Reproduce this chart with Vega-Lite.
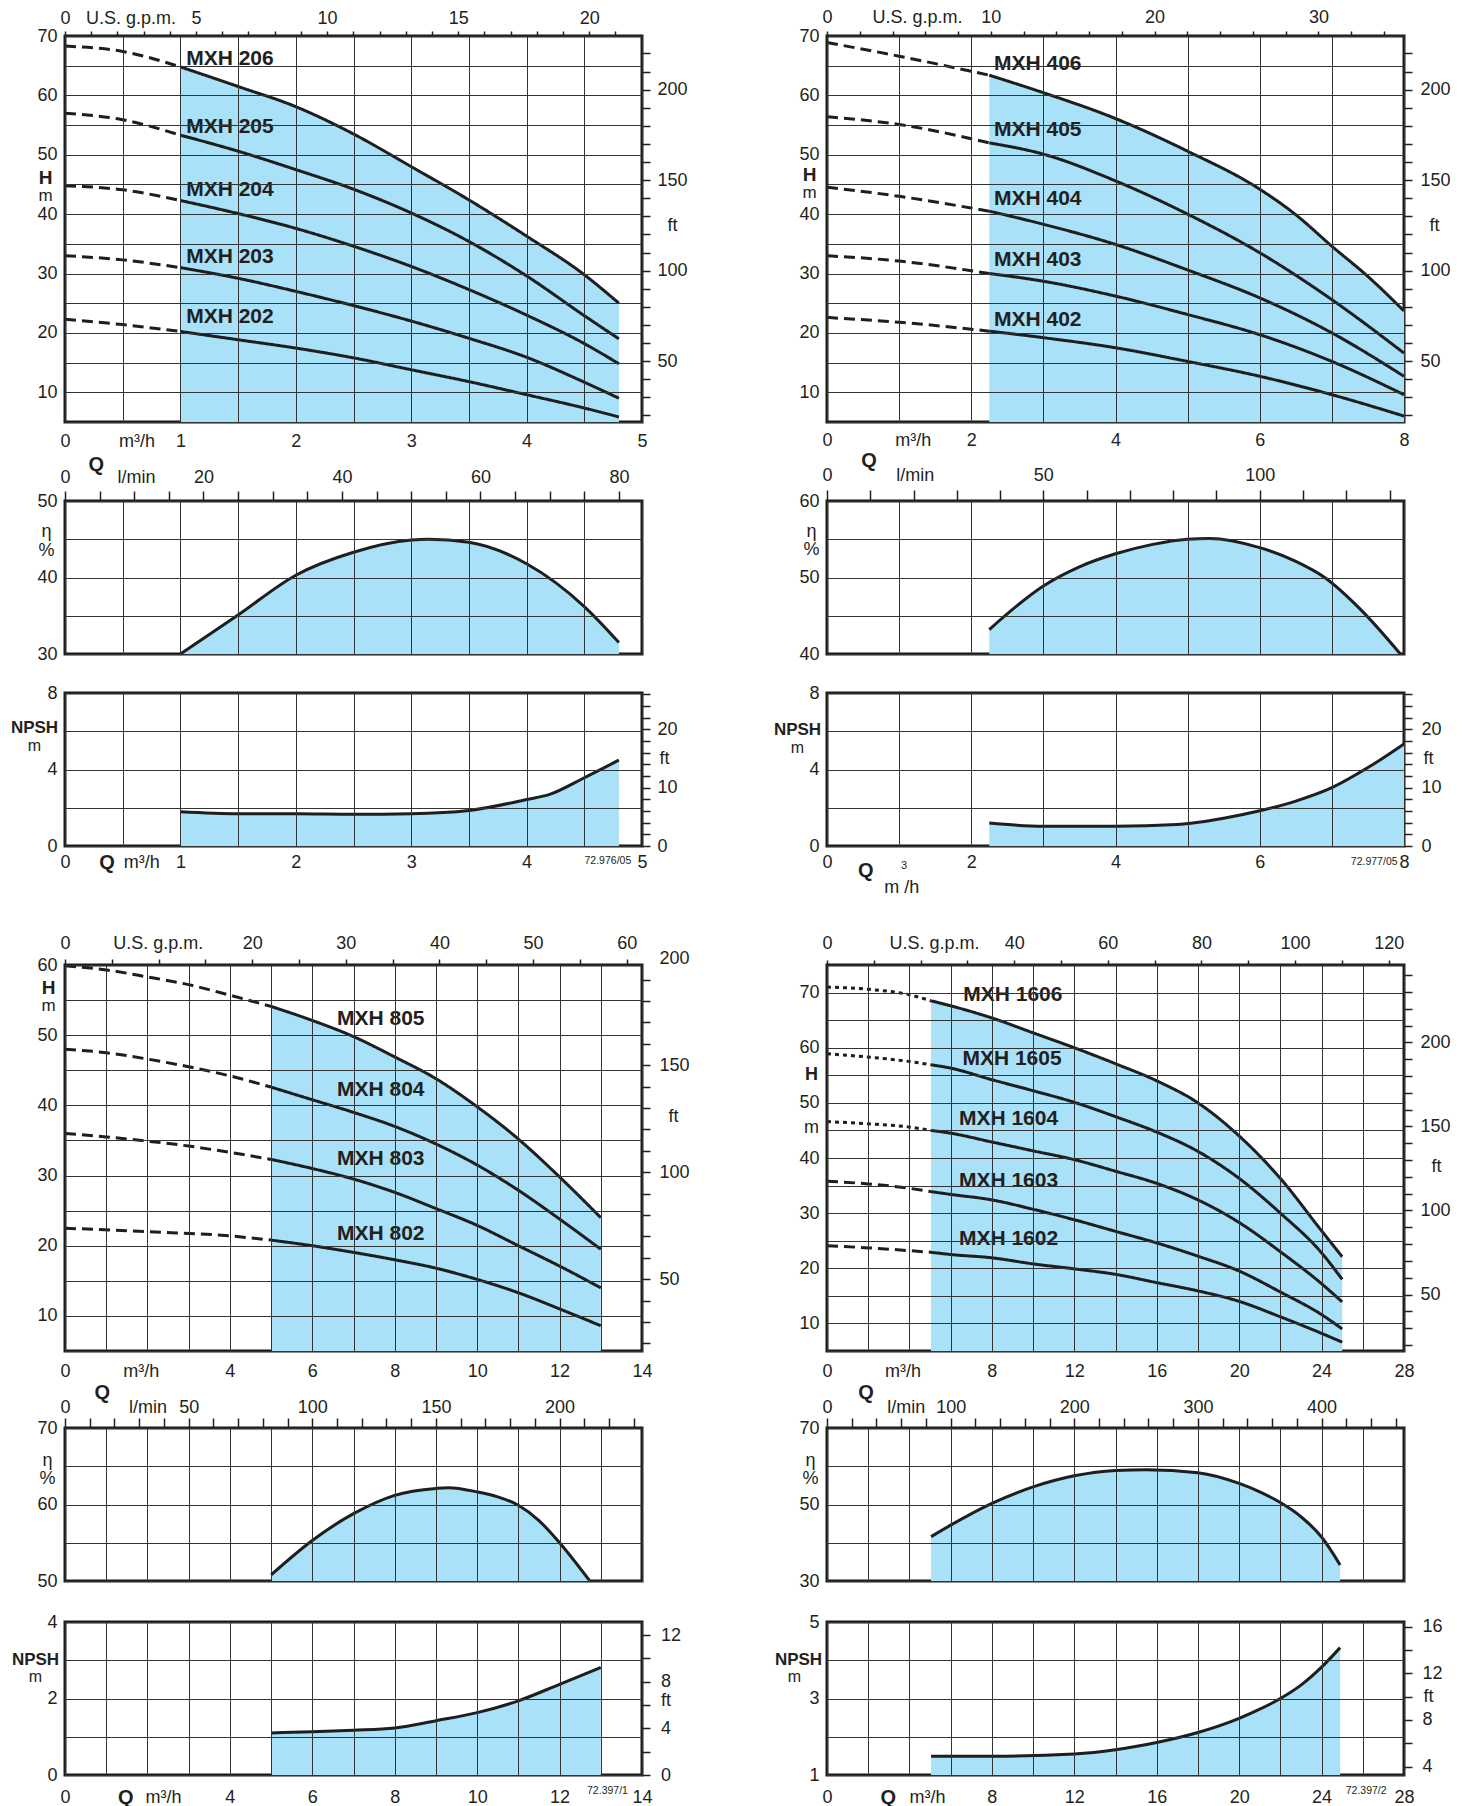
{
"$schema":"https://vega.github.io/schema/vega-lite/v6.json",
"background":"white",
"padding":{"left":8,"top":6,"right":10,"bottom":4},
"columns":2,
"spacing":{"row":0,"column":185},
"bounds":"flush",
"datasets":{
"h20":[
{"m":"MXH 206","s":"dashed","q":0,"h":68.3},{"m":"MXH 206","s":"dashed","q":0.5,"h":67.4},{"m":"MXH 206","s":"dashed","q":1,"h":64.8},
{"m":"MXH 206","s":"solid","q":1,"h":64.8},{"m":"MXH 206","s":"solid","q":1.5,"h":61.5},{"m":"MXH 206","s":"solid","q":2,"h":58.1},{"m":"MXH 206","s":"solid","q":2.5,"h":53.5},{"m":"MXH 206","s":"solid","q":3,"h":48.0},{"m":"MXH 206","s":"solid","q":3.5,"h":42.4},{"m":"MXH 206","s":"solid","q":4,"h":36.3},{"m":"MXH 206","s":"solid","q":4.5,"h":29.8},{"m":"MXH 206","s":"solid","q":4.8,"h":25.0},
{"m":"MXH 205","s":"dashed","q":0,"h":57.0},{"m":"MXH 205","s":"dashed","q":0.5,"h":55.9},{"m":"MXH 205","s":"dashed","q":1,"h":53.3},
{"m":"MXH 205","s":"solid","q":1,"h":53.3},{"m":"MXH 205","s":"solid","q":1.5,"h":50.6},{"m":"MXH 205","s":"solid","q":2,"h":47.5},{"m":"MXH 205","s":"solid","q":2.5,"h":44.2},{"m":"MXH 205","s":"solid","q":3,"h":40.2},{"m":"MXH 205","s":"solid","q":3.5,"h":35.4},{"m":"MXH 205","s":"solid","q":4,"h":29.6},{"m":"MXH 205","s":"solid","q":4.5,"h":22.9},{"m":"MXH 205","s":"solid","q":4.8,"h":19.0},
{"m":"MXH 204","s":"dashed","q":0,"h":44.8},{"m":"MXH 204","s":"dashed","q":0.5,"h":44.1},{"m":"MXH 204","s":"dashed","q":1,"h":42.3},
{"m":"MXH 204","s":"solid","q":1,"h":42.3},{"m":"MXH 204","s":"solid","q":1.5,"h":40.1},{"m":"MXH 204","s":"solid","q":2,"h":37.6},{"m":"MXH 204","s":"solid","q":2.5,"h":34.6},{"m":"MXH 204","s":"solid","q":3,"h":31.2},{"m":"MXH 204","s":"solid","q":3.5,"h":27.3},{"m":"MXH 204","s":"solid","q":4,"h":23.0},{"m":"MXH 204","s":"solid","q":4.5,"h":18.2},{"m":"MXH 204","s":"solid","q":4.8,"h":14.8},
{"m":"MXH 203","s":"dashed","q":0,"h":33.0},{"m":"MXH 203","s":"dashed","q":0.5,"h":32.3},{"m":"MXH 203","s":"dashed","q":1,"h":31.0},
{"m":"MXH 203","s":"solid","q":1,"h":31.0},{"m":"MXH 203","s":"solid","q":1.5,"h":29.2},{"m":"MXH 203","s":"solid","q":2,"h":27.0},{"m":"MXH 203","s":"solid","q":2.5,"h":24.6},{"m":"MXH 203","s":"solid","q":3,"h":22.0},{"m":"MXH 203","s":"solid","q":3.5,"h":19.1},{"m":"MXH 203","s":"solid","q":4,"h":15.9},{"m":"MXH 203","s":"solid","q":4.5,"h":11.7},{"m":"MXH 203","s":"solid","q":4.8,"h":9.0},
{"m":"MXH 202","s":"dashed","q":0,"h":22.3},{"m":"MXH 202","s":"dashed","q":0.5,"h":21.4},{"m":"MXH 202","s":"dashed","q":1,"h":20.25},
{"m":"MXH 202","s":"solid","q":1,"h":20.25},{"m":"MXH 202","s":"solid","q":1.5,"h":18.85},{"m":"MXH 202","s":"solid","q":2,"h":17.45},{"m":"MXH 202","s":"solid","q":2.5,"h":15.8},{"m":"MXH 202","s":"solid","q":3,"h":13.8},{"m":"MXH 202","s":"solid","q":3.5,"h":11.8},{"m":"MXH 202","s":"solid","q":4,"h":9.6},{"m":"MXH 202","s":"solid","q":4.5,"h":7.35},{"m":"MXH 202","s":"solid","q":4.8,"h":5.85}
],
"l20":[{"m":"MXH 206","q":1.05,"h":66.2},{"m":"MXH 205","q":1.05,"h":54.7},{"m":"MXH 204","q":1.05,"h":44.0},{"m":"MXH 203","q":1.05,"h":32.8},{"m":"MXH 202","q":1.05,"h":22.7}],
"e20":[{"q":1,"v":30},{"q":1.5,"v":35.1},{"q":2,"v":40.3},{"q":2.5,"v":43.3},{"q":3,"v":44.9},{"q":3.15,"v":45.0},{"q":3.5,"v":44.6},{"q":4,"v":41.8},{"q":4.5,"v":36.2},{"q":4.8,"v":31.5}],
"n20":[{"q":1,"v":1.79},{"q":1.5,"v":1.69},{"q":2,"v":1.69},{"q":2.5,"v":1.66},{"q":3,"v":1.69},{"q":3.5,"v":1.86},{"q":4,"v":2.43},{"q":4.2,"v":2.7},{"q":4.5,"v":3.57},{"q":4.8,"v":4.49}],
"h40":[
{"m":"MXH 406","s":"dashed","q":0,"h":68.9},{"m":"MXH 406","s":"dashed","q":1,"h":66.6},{"m":"MXH 406","s":"dashed","q":2.25,"h":63.4},
{"m":"MXH 406","s":"solid","q":2.25,"h":63.4},{"m":"MXH 406","s":"solid","q":3,"h":60.45},{"m":"MXH 406","s":"solid","q":4,"h":56.1},{"m":"MXH 406","s":"solid","q":5,"h":50.6},{"m":"MXH 406","s":"solid","q":6,"h":44.2},{"m":"MXH 406","s":"solid","q":6.5,"h":39.9},{"m":"MXH 406","s":"solid","q":7,"h":34.6},{"m":"MXH 406","s":"solid","q":7.5,"h":29.5},{"m":"MXH 406","s":"solid","q":8,"h":23.7},
{"m":"MXH 405","s":"dashed","q":0,"h":56.4},{"m":"MXH 405","s":"dashed","q":1,"h":55.1},{"m":"MXH 405","s":"dashed","q":2.25,"h":52.0},
{"m":"MXH 405","s":"solid","q":2.25,"h":52.0},{"m":"MXH 405","s":"solid","q":3,"h":50.1},{"m":"MXH 405","s":"solid","q":4,"h":45.6},{"m":"MXH 405","s":"solid","q":5,"h":40.0},{"m":"MXH 405","s":"solid","q":6,"h":33.5},{"m":"MXH 405","s":"solid","q":7,"h":25.6},{"m":"MXH 405","s":"solid","q":8,"h":16.6},
{"m":"MXH 404","s":"dashed","q":0,"h":44.55},{"m":"MXH 404","s":"dashed","q":1,"h":43.0},{"m":"MXH 404","s":"dashed","q":2.25,"h":40.5},
{"m":"MXH 404","s":"solid","q":2.25,"h":40.5},{"m":"MXH 404","s":"solid","q":3,"h":38.3},{"m":"MXH 404","s":"solid","q":4,"h":34.9},{"m":"MXH 404","s":"solid","q":5,"h":30.6},{"m":"MXH 404","s":"solid","q":6,"h":25.9},{"m":"MXH 404","s":"solid","q":7,"h":20.0},{"m":"MXH 404","s":"solid","q":8,"h":12.7},
{"m":"MXH 403","s":"dashed","q":0,"h":33.0},{"m":"MXH 403","s":"dashed","q":1,"h":32.1},{"m":"MXH 403","s":"dashed","q":2.25,"h":30.0},
{"m":"MXH 403","s":"solid","q":2.25,"h":30.0},{"m":"MXH 403","s":"solid","q":3,"h":28.7},{"m":"MXH 403","s":"solid","q":4,"h":26.2},{"m":"MXH 403","s":"solid","q":5,"h":23.1},{"m":"MXH 403","s":"solid","q":6,"h":19.7},{"m":"MXH 403","s":"solid","q":7,"h":15.2},{"m":"MXH 403","s":"solid","q":8,"h":9.6},
{"m":"MXH 402","s":"dashed","q":0,"h":22.6},{"m":"MXH 402","s":"dashed","q":1,"h":21.8},{"m":"MXH 402","s":"dashed","q":2.25,"h":20.3},
{"m":"MXH 402","s":"solid","q":2.25,"h":20.3},{"m":"MXH 402","s":"solid","q":3,"h":19.2},{"m":"MXH 402","s":"solid","q":4,"h":17.5},{"m":"MXH 402","s":"solid","q":5,"h":15.2},{"m":"MXH 402","s":"solid","q":6,"h":12.7},{"m":"MXH 402","s":"solid","q":7,"h":9.6},{"m":"MXH 402","s":"solid","q":8,"h":6.0}
],
"l40":[{"m":"MXH 406","q":2.315,"h":65.3},{"m":"MXH 405","q":2.315,"h":54.2},{"m":"MXH 404","q":2.315,"h":42.6},{"m":"MXH 403","q":2.315,"h":32.2},{"m":"MXH 402","q":2.315,"h":22.1}],
"e40":[{"q":2.25,"v":43.2},{"q":3,"v":48.9},{"q":3.5,"v":51.4},{"q":4,"v":53.1},{"q":4.5,"v":54.3},{"q":5,"v":55.0},{"q":5.3,"v":55.1},{"q":6,"v":53.9},{"q":6.5,"v":52.1},{"q":6.9,"v":50.0},{"q":7.4,"v":45.8},{"q":7.95,"v":40.0}],
"n40":[{"q":2.25,"v":1.2},{"q":3,"v":1.03},{"q":4,"v":1.03},{"q":4.85,"v":1.12},{"q":5.5,"v":1.45},{"q":6,"v":1.84},{"q":6.5,"v":2.35},{"q":7,"v":3.05},{"q":7.5,"v":4.1},{"q":8,"v":5.34}],
"h80":[
{"m":"MXH 805","s":"dashed","q":0,"h":59.9},{"m":"MXH 805","s":"dashed","q":1,"h":59.3},{"m":"MXH 805","s":"dashed","q":2,"h":58.3},{"m":"MXH 805","s":"dashed","q":3,"h":57.2},{"m":"MXH 805","s":"dashed","q":4,"h":55.7},{"m":"MXH 805","s":"dashed","q":5,"h":54.1},
{"m":"MXH 805","s":"solid","q":5,"h":54.1},{"m":"MXH 805","s":"solid","q":6,"h":52.1},{"m":"MXH 805","s":"solid","q":7,"h":49.8},{"m":"MXH 805","s":"solid","q":8,"h":46.9},{"m":"MXH 805","s":"solid","q":9,"h":43.8},{"m":"MXH 805","s":"solid","q":10,"h":39.8},{"m":"MXH 805","s":"solid","q":11,"h":35.2},{"m":"MXH 805","s":"solid","q":12,"h":29.8},{"m":"MXH 805","s":"solid","q":13,"h":24.0},
{"m":"MXH 804","s":"dashed","q":0,"h":48.0},{"m":"MXH 804","s":"dashed","q":1,"h":47.5},{"m":"MXH 804","s":"dashed","q":2,"h":46.6},{"m":"MXH 804","s":"dashed","q":3,"h":45.5},{"m":"MXH 804","s":"dashed","q":4,"h":44.2},{"m":"MXH 804","s":"dashed","q":5,"h":42.6},
{"m":"MXH 804","s":"solid","q":5,"h":42.6},{"m":"MXH 804","s":"solid","q":6,"h":40.8},{"m":"MXH 804","s":"solid","q":7,"h":39.0},{"m":"MXH 804","s":"solid","q":8,"h":37.0},{"m":"MXH 804","s":"solid","q":9,"h":34.5},{"m":"MXH 804","s":"solid","q":10,"h":31.5},{"m":"MXH 804","s":"solid","q":11,"h":27.9},{"m":"MXH 804","s":"solid","q":12,"h":23.8},{"m":"MXH 804","s":"solid","q":13,"h":19.5},
{"m":"MXH 803","s":"dashed","q":0,"h":36.0},{"m":"MXH 803","s":"dashed","q":1,"h":35.5},{"m":"MXH 803","s":"dashed","q":2,"h":34.9},{"m":"MXH 803","s":"dashed","q":3,"h":34.2},{"m":"MXH 803","s":"dashed","q":4,"h":33.3},{"m":"MXH 803","s":"dashed","q":5,"h":32.3},
{"m":"MXH 803","s":"solid","q":5,"h":32.3},{"m":"MXH 803","s":"solid","q":6,"h":31.0},{"m":"MXH 803","s":"solid","q":7,"h":29.5},{"m":"MXH 803","s":"solid","q":8,"h":27.6},{"m":"MXH 803","s":"solid","q":9,"h":25.3},{"m":"MXH 803","s":"solid","q":10,"h":22.9},{"m":"MXH 803","s":"solid","q":11,"h":20.0},{"m":"MXH 803","s":"solid","q":12,"h":17.1},{"m":"MXH 803","s":"solid","q":13,"h":14.0},
{"m":"MXH 802","s":"dashed","q":0,"h":22.5},{"m":"MXH 802","s":"dashed","q":2,"h":22.0},{"m":"MXH 802","s":"dashed","q":4,"h":21.4},{"m":"MXH 802","s":"dashed","q":5,"h":20.8},
{"m":"MXH 802","s":"solid","q":5,"h":20.8},{"m":"MXH 802","s":"solid","q":6,"h":20.0},{"m":"MXH 802","s":"solid","q":7,"h":19.05},{"m":"MXH 802","s":"solid","q":8,"h":18.0},{"m":"MXH 802","s":"solid","q":9,"h":16.8},{"m":"MXH 802","s":"solid","q":10,"h":15.2},{"m":"MXH 802","s":"solid","q":11,"h":13.3},{"m":"MXH 802","s":"solid","q":12,"h":11.0},{"m":"MXH 802","s":"solid","q":13,"h":8.6}
],
"l80":[{"m":"MXH 805","q":6.6,"h":52.3},{"m":"MXH 804","q":6.6,"h":42.2},{"m":"MXH 803","q":6.6,"h":32.3},{"m":"MXH 802","q":6.6,"h":21.7}],
"e80":[{"q":5,"v":50.8},{"q":6,"v":55.3},{"q":7,"v":58.8},{"q":8,"v":61.2},{"q":9,"v":62.1},{"q":9.3,"v":62.2},{"q":10,"v":61.65},{"q":10.5,"v":61.0},{"q":11,"v":59.9},{"q":11.5,"v":57.9},{"q":12,"v":55.0},{"q":12.72,"v":50.1}],
"n80":[{"q":5,"v":1.1},{"q":6,"v":1.13},{"q":7,"v":1.17},{"q":8,"v":1.23},{"q":9,"v":1.42},{"q":10,"v":1.63},{"q":11,"v":1.94},{"q":12,"v":2.37},{"q":13,"v":2.81}],
"h160":[
{"m":"MXH 1606","s":"dotted","q":0,"h":71.0},{"m":"MXH 1606","s":"dotted","q":2,"h":70.6},{"m":"MXH 1606","s":"dotted","q":4,"h":69.6},{"m":"MXH 1606","s":"dotted","q":5.05,"h":68.5},
{"m":"MXH 1606","s":"solid","q":5.05,"h":68.5},{"m":"MXH 1606","s":"solid","q":6,"h":67.6},{"m":"MXH 1606","s":"solid","q":8,"h":65.4},{"m":"MXH 1606","s":"solid","q":10,"h":62.7},{"m":"MXH 1606","s":"solid","q":12,"h":60.0},{"m":"MXH 1606","s":"solid","q":14,"h":57.1},{"m":"MXH 1606","s":"solid","q":16,"h":54.0},{"m":"MXH 1606","s":"solid","q":18,"h":50.0},{"m":"MXH 1606","s":"solid","q":20,"h":44.0},{"m":"MXH 1606","s":"solid","q":22,"h":36.3},{"m":"MXH 1606","s":"solid","q":24,"h":26.8},{"m":"MXH 1606","s":"solid","q":25,"h":22.1},
{"m":"MXH 1605","s":"dotted","q":0,"h":58.9},{"m":"MXH 1605","s":"dotted","q":2,"h":58.3},{"m":"MXH 1605","s":"dotted","q":4,"h":57.5},{"m":"MXH 1605","s":"dotted","q":5.05,"h":56.9},
{"m":"MXH 1605","s":"solid","q":5.05,"h":56.9},{"m":"MXH 1605","s":"solid","q":6,"h":56.3},{"m":"MXH 1605","s":"solid","q":8,"h":54.2},{"m":"MXH 1605","s":"solid","q":10,"h":52.2},{"m":"MXH 1605","s":"solid","q":12,"h":50.1},{"m":"MXH 1605","s":"solid","q":14,"h":47.5},{"m":"MXH 1605","s":"solid","q":16,"h":44.7},{"m":"MXH 1605","s":"solid","q":18,"h":41.2},{"m":"MXH 1605","s":"solid","q":20,"h":36.3},{"m":"MXH 1605","s":"solid","q":22,"h":30.0},{"m":"MXH 1605","s":"solid","q":24,"h":22.8},{"m":"MXH 1605","s":"solid","q":25,"h":18.0},
{"m":"MXH 1604","s":"dotted","q":0,"h":46.6},{"m":"MXH 1604","s":"dotted","q":2,"h":46.2},{"m":"MXH 1604","s":"dotted","q":4,"h":45.6},{"m":"MXH 1604","s":"dotted","q":5.05,"h":45.0},
{"m":"MXH 1604","s":"solid","q":5.05,"h":45.0},{"m":"MXH 1604","s":"solid","q":6,"h":44.5},{"m":"MXH 1604","s":"solid","q":8,"h":42.9},{"m":"MXH 1604","s":"solid","q":10,"h":41.3},{"m":"MXH 1604","s":"solid","q":12,"h":39.7},{"m":"MXH 1604","s":"solid","q":14,"h":37.6},{"m":"MXH 1604","s":"solid","q":16,"h":35.4},{"m":"MXH 1604","s":"solid","q":18,"h":32.4},{"m":"MXH 1604","s":"solid","q":20,"h":28.3},{"m":"MXH 1604","s":"solid","q":22,"h":23.0},{"m":"MXH 1604","s":"solid","q":24,"h":17.2},{"m":"MXH 1604","s":"solid","q":25,"h":13.9},
{"m":"MXH 1603","s":"dashed","q":0,"h":35.8},{"m":"MXH 1603","s":"dashed","q":2,"h":35.3},{"m":"MXH 1603","s":"dashed","q":4,"h":34.5},{"m":"MXH 1603","s":"dashed","q":5.05,"h":33.9},
{"m":"MXH 1603","s":"solid","q":5.05,"h":33.9},{"m":"MXH 1603","s":"solid","q":6,"h":33.4},{"m":"MXH 1603","s":"solid","q":8,"h":32.4},{"m":"MXH 1603","s":"solid","q":10,"h":30.7},{"m":"MXH 1603","s":"solid","q":12,"h":28.8},{"m":"MXH 1603","s":"solid","q":14,"h":26.7},{"m":"MXH 1603","s":"solid","q":16,"h":24.6},{"m":"MXH 1603","s":"solid","q":18,"h":22.2},{"m":"MXH 1603","s":"solid","q":20,"h":19.5},{"m":"MXH 1603","s":"solid","q":22,"h":15.7},{"m":"MXH 1603","s":"solid","q":24,"h":11.6},{"m":"MXH 1603","s":"solid","q":25,"h":9.0},
{"m":"MXH 1602","s":"dashed","q":0,"h":24.1},{"m":"MXH 1602","s":"dashed","q":2,"h":23.7},{"m":"MXH 1602","s":"dashed","q":4,"h":23.2},{"m":"MXH 1602","s":"dashed","q":5.05,"h":22.9},
{"m":"MXH 1602","s":"solid","q":5.05,"h":22.9},{"m":"MXH 1602","s":"solid","q":6,"h":22.5},{"m":"MXH 1602","s":"solid","q":8,"h":21.9},{"m":"MXH 1602","s":"solid","q":10,"h":20.8},{"m":"MXH 1602","s":"solid","q":12,"h":19.9},{"m":"MXH 1602","s":"solid","q":14,"h":18.9},{"m":"MXH 1602","s":"solid","q":16,"h":17.4},{"m":"MXH 1602","s":"solid","q":18,"h":15.9},{"m":"MXH 1602","s":"solid","q":20,"h":14.0},{"m":"MXH 1602","s":"solid","q":22,"h":11.2},{"m":"MXH 1602","s":"solid","q":24,"h":8.2},{"m":"MXH 1602","s":"solid","q":25,"h":6.6}
],
"l160":[{"m":"MXH 1606","q":6.61,"h":69.6},{"m":"MXH 1605","q":6.57,"h":57.9},{"m":"MXH 1604","q":6.4,"h":47.1},{"m":"MXH 1603","q":6.4,"h":35.9},{"m":"MXH 1602","q":6.4,"h":25.3}],
"e160":[{"q":5.05,"v":41.6},{"q":6,"v":44.6},{"q":8,"v":50.3},{"q":10,"v":54.6},{"q":12,"v":57.5},{"q":14,"v":58.9},{"q":15.5,"v":59.1},{"q":18,"v":58.3},{"q":20,"v":55.5},{"q":21,"v":53.3},{"q":22,"v":50.5},{"q":23,"v":46.8},{"q":24,"v":41.5},{"q":24.9,"v":34.2}],
"n160":[{"q":5.05,"v":1.49},{"q":8,"v":1.49},{"q":12,"v":1.55},{"q":14,"v":1.66},{"q":16,"v":1.85},{"q":18,"v":2.11},{"q":20,"v":2.48},{"q":21,"v":2.72},{"q":22,"v":3.0},{"q":23,"v":3.35},{"q":24,"v":3.82},{"q":24.9,"v":4.33}]
},
"concat":[
{"width":577,"height":386,
"layer":[
{"data":{"name":"h20"},"layer":[
{"transform":[{"filter":"datum.m == 'MXH 206' && datum.s == 'solid'"}],"mark":{"type":"area","interpolate":"monotone","color":"#a8e1f8","clip":true},
"encoding":{
"x":{"field":"q","type":"quantitative","title":null,"scale":{"domain":[0,5],"nice":false,"zero":false},"axis":{"orient":"bottom","tickCount":500,"labelOverlap":false,"labelFlush":false,"zindex":1,"grid":true,"values":[0,0.5,1,1.5,2,2.5,3,3.5,4,4.5,5,0.62],"labelExpr":"datum.value == 0.62 ? 'm³/h' : datum.value % 1 == 0 ? format(datum.value, 'd') : ''","gridOpacity":{"condition":{"test":"datum.value == 0.62","value":0},"value":1},"labelPadding":10}},
"y":{"field":"h","type":"quantitative","title":null,"scale":{"domain":[5,70],"nice":false,"zero":false},"axis":{"orient":"left","tickCount":500,"labelOverlap":false,"labelFlush":false,"zindex":1,"grid":true,"values":[5,10,15,20,25,30,35,40,45,50,55,60,65,70,46.2,43.2],"labelExpr":"datum.value == 46.2 ? 'H' : datum.value == 43.2 ? 'm' : datum.value % 10 == 0 ? format(datum.value, 'd') : ''","gridOpacity":{"condition":{"test":"datum.value % 5 != 0","value":0},"value":1},"labelAlign":{"condition":{"test":"datum.value % 5 != 0","value":"center"},"value":"right"},"labelPadding":{"condition":{"test":"datum.value % 5 != 0","value":20},"value":8},"labelFontWeight":{"condition":{"test":"datum.value == 46.2","value":"bold"},"value":"normal"},"labelFontSize":{"condition":[{"test":"datum.value == 46.2","value":19},{"test":"datum.value == 43.2","value":17}],"value":18}}}}},
{"mark":{"type":"line","interpolate":"monotone","color":"#1e1e1e","strokeWidth":3},"encoding":{"x":{"field":"q","type":"quantitative","title":null},"y":{"field":"h","type":"quantitative","title":null},"detail":{"field":"m","type":"nominal"},"strokeDash":{"field":"s","type":"nominal","scale":{"domain":["solid","dashed","dotted"],"range":[[1,0],[11,6],[4,4]]},"legend":null}}},
{"data":{"name":"l20"},"mark":{"type":"text","align":"left","baseline":"middle","fontWeight":"bold","fontSize":21,"color":"#231f20","font":"Liberation Sans"},"encoding":{"x":{"field":"q","type":"quantitative","title":null},"y":{"field":"h","type":"quantitative","title":null},"text":{"field":"m","type":"nominal"}}}
]},
{"data":{"values":[{"g":0,"f":50}]},"mark":{"type":"point","opacity":0},
"encoding":{
"x":{"field":"g","type":"quantitative","title":null,"scale":{"domain":[0,22.0145],"nice":false,"zero":false},"axis":{"orient":"top","tickCount":500,"labelOverlap":false,"labelFlush":false,"ticks":true,"tickSize":5,"tickColor":"#231f20","tickWidth":1.5,"values":[0,1,2,3,4,5,6,7,8,9,10,11,12,13,14,15,16,17,18,19,20,21,2.5],"tickOpacity":{"condition":{"test":"datum.value == 2.5","value":0},"value":1},"labelExpr":"datum.value == 2.5 ? 'U.S. g.p.m.' : datum.value % 5 == 0 ? format(datum.value, 'd') : ''","labelPadding":4}},
"y":{"field":"f","type":"quantitative","title":null,"scale":{"domain":[16.404,229.659],"nice":false,"zero":false},"axis":{"orient":"right","tickCount":500,"labelOverlap":false,"labelFlush":false,"ticks":true,"tickSize":8,"tickColor":"#231f20","tickWidth":1.5,"values":[20,30,40,50,60,70,80,90,100,110,120,130,140,150,160,170,180,190,200,210,220,125],"tickOpacity":{"condition":{"test":"datum.value == 125","value":0},"value":1},"labelExpr":"datum.value == 125 ? 'ft' : datum.value % 50 == 0 ? format(datum.value, 'd') : ''","labelPadding":{"condition":{"test":"datum.value == 125","value":17},"value":7}}}}}
],
"resolve":{"scale":{"x":"independent","y":"independent"}}},

{"width":577,"height":386,
"layer":[
{"data":{"name":"h40"},"layer":[
{"transform":[{"filter":"datum.m == 'MXH 406' && datum.s == 'solid'"}],"mark":{"type":"area","interpolate":"monotone","color":"#a8e1f8","clip":true},
"encoding":{
"x":{"field":"q","type":"quantitative","title":null,"scale":{"domain":[0,8],"nice":false,"zero":false},"axis":{"orient":"bottom","tickCount":500,"labelOverlap":false,"labelFlush":false,"zindex":1,"grid":true,"values":[0,1,2,3,4,5,6,7,8,1.19],"labelExpr":"datum.value == 1.19 ? 'm³/h' : datum.value % 2 == 0 ? format(datum.value, 'd') : ''","gridOpacity":{"condition":{"test":"datum.value == 1.19","value":0},"value":1},"labelPadding":9}},
"y":{"field":"h","type":"quantitative","title":null,"scale":{"domain":[5,70],"nice":false,"zero":false},"axis":{"orient":"left","tickCount":500,"labelOverlap":false,"labelFlush":false,"zindex":1,"grid":true,"values":[5,10,15,20,25,30,35,40,45,50,55,60,65,70,46.6,43.6],"labelExpr":"datum.value == 46.6 ? 'H' : datum.value == 43.6 ? 'm' : datum.value % 10 == 0 ? format(datum.value, 'd') : ''","gridOpacity":{"condition":{"test":"datum.value % 5 != 0","value":0},"value":1},"labelAlign":{"condition":{"test":"datum.value % 5 != 0","value":"center"},"value":"right"},"labelPadding":{"condition":{"test":"datum.value % 5 != 0","value":18},"value":8},"labelFontWeight":{"condition":{"test":"datum.value == 46.6","value":"bold"},"value":"normal"},"labelFontSize":{"condition":[{"test":"datum.value == 46.6","value":19},{"test":"datum.value == 43.6","value":17}],"value":18}}}}},
{"mark":{"type":"line","interpolate":"monotone","color":"#1e1e1e","strokeWidth":3},"encoding":{"x":{"field":"q","type":"quantitative","title":null},"y":{"field":"h","type":"quantitative","title":null},"detail":{"field":"m","type":"nominal"},"strokeDash":{"field":"s","type":"nominal","scale":{"domain":["solid","dashed","dotted"],"range":[[1,0],[11,6],[4,4]]},"legend":null}}},
{"data":{"name":"l40"},"mark":{"type":"text","align":"left","baseline":"middle","fontWeight":"bold","fontSize":21,"color":"#231f20","font":"Liberation Sans"},"encoding":{"x":{"field":"q","type":"quantitative","title":null},"y":{"field":"h","type":"quantitative","title":null},"text":{"field":"m","type":"nominal"}}}
]},
{"data":{"values":[{"g":0,"f":50}]},"mark":{"type":"point","opacity":0},
"encoding":{
"x":{"field":"g","type":"quantitative","title":null,"scale":{"domain":[0,35.223],"nice":false,"zero":false},"axis":{"orient":"top","tickCount":500,"labelOverlap":false,"labelFlush":false,"ticks":true,"tickSize":5,"tickColor":"#231f20","tickWidth":1.5,"values":[0,2,4,6,8,10,12,14,16,18,20,22,24,26,28,30,32,34,5.5],"tickOpacity":{"condition":{"test":"datum.value == 5.5","value":0},"value":1},"labelExpr":"datum.value == 5.5 ? 'U.S. g.p.m.' : datum.value % 10 == 0 ? format(datum.value, 'd') : ''","labelPadding":5}},
"y":{"field":"f","type":"quantitative","title":null,"scale":{"domain":[16.404,229.659],"nice":false,"zero":false},"axis":{"orient":"right","tickCount":500,"labelOverlap":false,"labelFlush":false,"ticks":true,"tickSize":8,"tickColor":"#231f20","tickWidth":1.5,"values":[20,30,40,50,60,70,80,90,100,110,120,130,140,150,160,170,180,190,200,210,220,125],"tickOpacity":{"condition":{"test":"datum.value == 125","value":0},"value":1},"labelExpr":"datum.value == 125 ? 'ft' : datum.value % 50 == 0 ? format(datum.value, 'd') : ''","labelPadding":{"condition":{"test":"datum.value == 125","value":17},"value":8}}}}}
],
"resolve":{"scale":{"x":"independent","y":"independent"}}},

{"width":577,"height":79,"view":{"stroke":null},"data":{"values":[]},"mark":"point"},
{"width":577,"height":79,"view":{"stroke":null},"data":{"values":[]},"mark":"point"},

{"width":577,"height":153,
"layer":[
{"data":{"name":"e20"},"layer":[
{"mark":{"type":"area","interpolate":"monotone","color":"#a8e1f8","clip":true},
"encoding":{
"x":{"field":"q","type":"quantitative","title":null,"scale":{"domain":[0,5],"nice":false,"zero":false},"axis":{"orient":"bottom","tickCount":500,"labelOverlap":false,"labelFlush":false,"zindex":1,"grid":true,"labels":false,"values":[0,0.5,1,1.5,2,2.5,3,3.5,4,4.5,5]}},
"y":{"field":"v","type":"quantitative","title":null,"scale":{"domain":[30,50],"nice":false,"zero":false},"axis":{"orient":"left","tickCount":500,"labelOverlap":false,"labelFlush":false,"zindex":1,"grid":true,"values":[30,35,40,45,50,45.96,43.5],"labelExpr":"datum.value == 45.96 ? 'η' : datum.value == 43.5 ? '%' : datum.value % 10 == 0 ? format(datum.value, 'd') : ''","gridOpacity":{"condition":{"test":"datum.value % 5 != 0","value":0},"value":1},"labelAlign":{"condition":{"test":"datum.value % 5 != 0","value":"center"},"value":"right"},"labelPadding":{"condition":{"test":"datum.value % 5 != 0","value":19},"value":8}}}}},
{"mark":{"type":"line","interpolate":"monotone","color":"#1e1e1e","strokeWidth":3},"encoding":{"x":{"field":"q","type":"quantitative","title":null},"y":{"field":"v","type":"quantitative","title":null}}}
]},
{"data":{"values":[{"l":0}]},"mark":{"type":"point","opacity":0},
"encoding":{
"x":{"field":"l","type":"quantitative","title":null,"scale":{"domain":[0,83.333],"nice":false,"zero":false},"axis":{"orient":"top","tickCount":500,"labelOverlap":false,"labelFlush":false,"ticks":true,"tickSize":10,"tickColor":"#231f20","tickWidth":1.5,"values":[0,5,10,15,20,25,30,35,40,45,50,55,60,65,70,75,80,4.44,10.25],"tickOpacity":{"condition":{"test":"datum.value == 4.44 || datum.value == 10.25","value":0},"value":1},"labelExpr":"datum.value == 4.44 ? 'Q' : datum.value == 10.25 ? 'l/min' : datum.value % 20 == 0 ? format(datum.value, 'd') : ''","labelFontWeight":{"condition":{"test":"datum.value == 4.44","value":"bold"},"value":"normal"},"labelFontSize":{"condition":{"test":"datum.value == 4.44","value":20},"value":18},"labelPadding":{"condition":{"test":"datum.value == 4.44","value":17},"value":5}}}}}
],
"resolve":{"scale":{"x":"independent"}}},

{"width":577,"height":153,
"layer":[
{"data":{"name":"e40"},"layer":[
{"mark":{"type":"area","interpolate":"monotone","color":"#a8e1f8","clip":true},
"encoding":{
"x":{"field":"q","type":"quantitative","title":null,"scale":{"domain":[0,8],"nice":false,"zero":false},"axis":{"orient":"bottom","tickCount":500,"labelOverlap":false,"labelFlush":false,"zindex":1,"grid":true,"labels":false,"values":[0,1,2,3,4,5,6,7,8]}},
"y":{"field":"v","type":"quantitative","title":null,"scale":{"domain":[40,60],"nice":false,"zero":false},"axis":{"orient":"left","tickCount":500,"labelOverlap":false,"labelFlush":false,"zindex":1,"grid":true,"values":[40,45,50,55,60,56.01,53.7],"labelExpr":"datum.value == 56.01 ? 'η' : datum.value == 53.7 ? '%' : datum.value % 10 == 0 ? format(datum.value, 'd') : ''","gridOpacity":{"condition":{"test":"datum.value % 5 != 0","value":0},"value":1},"labelAlign":{"condition":{"test":"datum.value % 5 != 0","value":"center"},"value":"right"},"labelPadding":{"condition":{"test":"datum.value % 5 != 0","value":16},"value":8}}}}},
{"mark":{"type":"line","interpolate":"monotone","color":"#1e1e1e","strokeWidth":3},"encoding":{"x":{"field":"q","type":"quantitative","title":null},"y":{"field":"v","type":"quantitative","title":null}}}
]},
{"data":{"values":[{"l":0}]},"mark":{"type":"point","opacity":0},
"encoding":{
"x":{"field":"l","type":"quantitative","title":null,"scale":{"domain":[0,133.333],"nice":false,"zero":false},"axis":{"orient":"top","tickCount":500,"labelOverlap":false,"labelFlush":false,"ticks":true,"tickSize":11,"tickColor":"#231f20","tickWidth":1.5,"values":[0,10,20,30,40,50,60,70,80,90,100,110,120,130,9.6,20.3],"tickOpacity":{"condition":{"test":"datum.value == 9.6 || datum.value == 20.3","value":0},"value":1},"labelExpr":"datum.value == 9.6 ? 'Q' : datum.value == 20.3 ? 'l/min' : datum.value % 50 == 0 ? format(datum.value, 'd') : ''","labelFontWeight":{"condition":{"test":"datum.value == 9.6","value":"bold"},"value":"normal"},"labelFontSize":{"condition":{"test":"datum.value == 9.6","value":20},"value":18},"labelPadding":{"condition":{"test":"datum.value == 9.6","value":20},"value":6}}}}}
],
"resolve":{"scale":{"x":"independent"}}},

{"width":577,"height":39,"view":{"stroke":null},"data":{"values":[]},"mark":"point"},
{"width":577,"height":39,"view":{"stroke":null},"data":{"values":[]},"mark":"point"},

{"width":577,"height":153,
"layer":[
{"data":{"name":"n20"},"layer":[
{"mark":{"type":"area","interpolate":"monotone","color":"#a8e1f8","clip":true},
"encoding":{
"x":{"field":"q","type":"quantitative","title":null,"scale":{"domain":[0,5],"nice":false,"zero":false},"axis":{"orient":"bottom","tickCount":500,"labelOverlap":false,"labelFlush":false,"zindex":1,"grid":true,"values":[0,0.5,1,1.5,2,2.5,3,3.5,4,4.5,5,0.36,0.66,4.7],"labelExpr":"datum.value == 0.36 ? 'Q' : datum.value == 0.66 ? 'm³/h' : datum.value == 4.7 ? '72.976/05' : datum.value % 1 == 0 ? format(datum.value, 'd') : ''","gridOpacity":{"condition":{"test":"datum.value % 0.5 != 0","value":0},"value":1},"labelFontWeight":{"condition":{"test":"datum.value == 0.36","value":"bold"},"value":"normal"},"labelFontSize":{"condition":[{"test":"datum.value == 0.36","value":20},{"test":"datum.value == 4.7","value":10.5}],"value":18},"labelPadding":{"condition":[{"test":"datum.value == 0.36","value":6},{"test":"datum.value == 4.7","value":9.5}],"value":7}}},
"y":{"field":"v","type":"quantitative","title":null,"scale":{"domain":[0,8],"nice":false,"zero":false},"axis":{"orient":"left","tickCount":500,"labelOverlap":false,"labelFlush":false,"zindex":1,"grid":true,"values":[0,2,4,6,8,6.17,5.23],"labelExpr":"datum.value == 6.17 ? 'NPSH' : datum.value == 5.23 ? 'm' : datum.value % 4 == 0 ? format(datum.value, 'd') : ''","gridOpacity":{"condition":{"test":"datum.value % 2 != 0","value":0},"value":1},"labelAlign":{"condition":{"test":"datum.value % 2 != 0","value":"center"},"value":"right"},"labelPadding":{"condition":{"test":"datum.value % 2 != 0","value":31},"value":8},"labelFontWeight":{"condition":{"test":"datum.value == 6.17","value":"bold"},"value":"normal"},"labelFontSize":{"condition":[{"test":"datum.value == 6.17","value":17},{"test":"datum.value == 5.23","value":16}],"value":18}}}}},
{"mark":{"type":"line","interpolate":"monotone","color":"#1e1e1e","strokeWidth":3},"encoding":{"x":{"field":"q","type":"quantitative","title":null},"y":{"field":"v","type":"quantitative","title":null}}}
]},
{"data":{"values":[{"f":0}]},"mark":{"type":"point","opacity":0},
"encoding":{
"y":{"field":"f","type":"quantitative","title":null,"scale":{"domain":[0,26.247],"nice":false,"zero":false},"axis":{"orient":"right","tickCount":500,"labelOverlap":false,"labelFlush":false,"ticks":true,"tickSize":8,"tickColor":"#231f20","tickWidth":1.5,"values":[0,2,4,6,8,10,12,14,16,18,20,22,24,26,15],"tickOpacity":{"condition":{"test":"datum.value == 15","value":0},"value":1},"labelExpr":"datum.value == 15 ? 'ft' : datum.value % 10 == 0 ? format(datum.value, 'd') : ''","labelPadding":{"condition":{"test":"datum.value == 15","value":9},"value":7}}}}}
],
"resolve":{"scale":{"y":"independent"}}},

{"width":577,"height":153,
"layer":[
{"data":{"name":"n40"},"layer":[
{"mark":{"type":"area","interpolate":"monotone","color":"#a8e1f8","clip":true},
"encoding":{
"x":{"field":"q","type":"quantitative","title":null,"scale":{"domain":[0,8],"nice":false,"zero":false},"axis":{"orient":"bottom","tickCount":500,"labelOverlap":false,"labelFlush":false,"zindex":1,"grid":true,"values":[0,1,2,3,4,5,6,7,8,0.53,1.06,1.03,7.58],"labelExpr":"datum.value == 0.53 ? 'Q' : datum.value == 1.06 ? '3' : datum.value == 1.03 ? 'm /h' : datum.value == 7.58 ? '72.977/05' : datum.value % 2 == 0 ? format(datum.value, 'd') : ''","gridOpacity":{"condition":{"test":"datum.value % 1 != 0","value":0},"value":1},"labelFontWeight":{"condition":{"test":"datum.value == 0.53","value":"bold"},"value":"normal"},"labelFontSize":{"condition":[{"test":"datum.value == 0.53","value":20},{"test":"datum.value == 1.06","value":11},{"test":"datum.value == 7.58","value":10.5}],"value":18},"labelPadding":{"condition":[{"test":"datum.value == 0.53","value":14},{"test":"datum.value == 1.06","value":13},{"test":"datum.value == 1.03","value":32},{"test":"datum.value == 7.58","value":10}],"value":7}}},
"y":{"field":"v","type":"quantitative","title":null,"scale":{"domain":[0,8],"nice":false,"zero":false},"axis":{"orient":"left","tickCount":500,"labelOverlap":false,"labelFlush":false,"zindex":1,"grid":true,"values":[0,2,4,6,8,6.09,5.15],"labelExpr":"datum.value == 6.09 ? 'NPSH' : datum.value == 5.15 ? 'm' : datum.value % 4 == 0 ? format(datum.value, 'd') : ''","gridOpacity":{"condition":{"test":"datum.value % 2 != 0","value":0},"value":1},"labelAlign":{"condition":{"test":"datum.value % 2 != 0","value":"center"},"value":"right"},"labelPadding":{"condition":{"test":"datum.value % 2 != 0","value":30},"value":8},"labelFontWeight":{"condition":{"test":"datum.value == 6.09","value":"bold"},"value":"normal"},"labelFontSize":{"condition":[{"test":"datum.value == 6.09","value":17},{"test":"datum.value == 5.15","value":16}],"value":18}}}}},
{"mark":{"type":"line","interpolate":"monotone","color":"#1e1e1e","strokeWidth":3},"encoding":{"x":{"field":"q","type":"quantitative","title":null},"y":{"field":"v","type":"quantitative","title":null}}}
]},
{"data":{"values":[{"f":0}]},"mark":{"type":"point","opacity":0},
"encoding":{
"y":{"field":"f","type":"quantitative","title":null,"scale":{"domain":[0,26.247],"nice":false,"zero":false},"axis":{"orient":"right","tickCount":500,"labelOverlap":false,"labelFlush":false,"ticks":true,"tickSize":8,"tickColor":"#231f20","tickWidth":1.5,"values":[0,2,4,6,8,10,12,14,16,18,20,22,24,26,15],"tickOpacity":{"condition":{"test":"datum.value == 15","value":0},"value":1},"labelExpr":"datum.value == 15 ? 'ft' : datum.value % 10 == 0 ? format(datum.value, 'd') : ''","labelPadding":{"condition":{"test":"datum.value == 15","value":11},"value":9}}}}}
],
"resolve":{"scale":{"y":"independent"}}},

{"width":577,"height":119,"view":{"stroke":null},"data":{"values":[]},"mark":"point"},
{"width":577,"height":119,"view":{"stroke":null},"data":{"values":[]},"mark":"point"},

{"width":577,"height":386,
"layer":[
{"data":{"name":"h80"},"layer":[
{"transform":[{"filter":"datum.m == 'MXH 805' && datum.s == 'solid'"}],"mark":{"type":"area","interpolate":"monotone","color":"#a8e1f8","clip":true},
"encoding":{
"x":{"field":"q","type":"quantitative","title":null,"scale":{"domain":[0,14],"nice":false,"zero":false},"axis":{"orient":"bottom","tickCount":500,"labelOverlap":false,"labelFlush":false,"zindex":1,"grid":true,"values":[0,1,2,3,4,5,6,7,8,9,10,11,12,13,14,1.84],"labelExpr":"datum.value == 1.84 ? 'm³/h' : (datum.value % 2 == 0 && datum.value != 2) ? format(datum.value, 'd') : ''","gridOpacity":{"condition":{"test":"datum.value == 1.84","value":0},"value":1},"labelPadding":11.5}},
"y":{"field":"h","type":"quantitative","title":null,"scale":{"domain":[5,60],"nice":false,"zero":false},"axis":{"orient":"left","tickCount":500,"labelOverlap":false,"labelFlush":false,"zindex":1,"grid":true,"values":[5,10,15,20,25,30,35,40,45,50,55,60,56.8,54.2],"labelExpr":"datum.value == 56.8 ? 'H' : datum.value == 54.2 ? 'm' : datum.value % 10 == 0 ? format(datum.value, 'd') : ''","gridOpacity":{"condition":{"test":"datum.value % 5 != 0","value":0},"value":1},"labelAlign":{"condition":{"test":"datum.value % 5 != 0","value":"center"},"value":"right"},"labelPadding":{"condition":{"test":"datum.value % 5 != 0","value":17},"value":8},"labelFontWeight":{"condition":{"test":"datum.value == 56.8","value":"bold"},"value":"normal"},"labelFontSize":{"condition":[{"test":"datum.value == 56.8","value":19},{"test":"datum.value == 54.2","value":17}],"value":18}}}}},
{"mark":{"type":"line","interpolate":"monotone","color":"#1e1e1e","strokeWidth":3},"encoding":{"x":{"field":"q","type":"quantitative","title":null},"y":{"field":"h","type":"quantitative","title":null},"detail":{"field":"m","type":"nominal"},"strokeDash":{"field":"s","type":"nominal","scale":{"domain":["solid","dashed","dotted"],"range":[[1,0],[11,6],[4,4]]},"legend":null}}},
{"data":{"name":"l80"},"mark":{"type":"text","align":"left","baseline":"middle","fontWeight":"bold","fontSize":21,"color":"#231f20","font":"Liberation Sans"},"encoding":{"x":{"field":"q","type":"quantitative","title":null},"y":{"field":"h","type":"quantitative","title":null},"text":{"field":"m","type":"nominal"}}}
]},
{"data":{"values":[{"g":0,"f":50}]},"mark":{"type":"point","opacity":0},
"encoding":{
"x":{"field":"g","type":"quantitative","title":null,"scale":{"domain":[0,61.64],"nice":false,"zero":false},"axis":{"orient":"top","tickCount":500,"labelOverlap":false,"labelFlush":false,"ticks":true,"tickSize":6,"tickColor":"#231f20","tickWidth":1.5,"values":[0,5,10,15,20,25,30,35,40,45,50,55,60,9.9],"tickOpacity":{"condition":{"test":"datum.value == 9.9","value":0},"value":1},"labelExpr":"datum.value == 9.9 ? 'U.S.  g.p.m.' : (datum.value % 10 == 0 && datum.value != 10) ? format(datum.value, 'd') : ''","labelPadding":7}},
"y":{"field":"f","type":"quantitative","title":null,"scale":{"domain":[16.404,200],"range":[386,-6.74],"nice":false,"zero":false},"axis":{"orient":"right","tickCount":500,"labelOverlap":false,"labelFlush":false,"ticks":true,"tickSize":8,"tickColor":"#231f20","tickWidth":1.5,"values":[20,30,40,50,60,70,80,90,100,110,120,130,140,150,160,170,180,190,200,126],"tickOpacity":{"condition":{"test":"datum.value == 126 || datum.value == 200","value":0},"value":1},"labelExpr":"datum.value == 126 ? 'ft' : datum.value % 50 == 0 ? format(datum.value, 'd') : ''","labelPadding":{"condition":{"test":"datum.value == 126","value":18},"value":9}}}}}
],
"resolve":{"scale":{"x":"independent","y":"independent"}}},

{"width":577,"height":386,
"layer":[
{"data":{"name":"h160"},"layer":[
{"transform":[{"filter":"datum.m == 'MXH 1606' && datum.s == 'solid'"}],"mark":{"type":"area","interpolate":"monotone","color":"#a8e1f8","clip":true},
"encoding":{
"x":{"field":"q","type":"quantitative","title":null,"scale":{"domain":[0,28],"nice":false,"zero":false},"axis":{"orient":"bottom","tickCount":500,"labelOverlap":false,"labelFlush":false,"zindex":1,"grid":true,"values":[0,2,4,6,8,10,12,14,16,18,20,22,24,26,28,3.66],"labelExpr":"datum.value == 3.66 ? 'm³/h' : (datum.value % 4 == 0 && datum.value != 4) ? format(datum.value, 'd') : ''","gridOpacity":{"condition":{"test":"datum.value == 3.66","value":0},"value":1},"labelPadding":11.5}},
"y":{"field":"h","type":"quantitative","title":null,"scale":{"domain":[5,75],"nice":false,"zero":false},"axis":{"orient":"left","tickCount":500,"labelOverlap":false,"labelFlush":false,"zindex":1,"grid":true,"values":[5,10,15,20,25,30,35,40,45,50,55,60,65,70,75,55.1,45.6],"labelExpr":"datum.value == 55.1 ? 'H' : datum.value == 45.6 ? 'm' : datum.value % 10 == 0 ? format(datum.value, 'd') : ''","gridOpacity":{"condition":{"test":"datum.value % 5 != 0","value":0},"value":1},"labelAlign":{"condition":{"test":"datum.value % 5 != 0","value":"center"},"value":"right"},"labelPadding":{"condition":{"test":"datum.value % 5 != 0","value":16},"value":8},"labelFontWeight":{"condition":{"test":"datum.value == 55.1","value":"bold"},"value":"normal"}}}}},
{"mark":{"type":"line","interpolate":"monotone","color":"#1e1e1e","strokeWidth":3},"encoding":{"x":{"field":"q","type":"quantitative","title":null},"y":{"field":"h","type":"quantitative","title":null},"detail":{"field":"m","type":"nominal"},"strokeDash":{"field":"s","type":"nominal","scale":{"domain":["solid","dashed","dotted"],"range":[[1,0],[11,6],[4,4]]},"legend":null}}},
{"data":{"name":"l160"},"mark":{"type":"text","align":"left","baseline":"middle","fontWeight":"bold","fontSize":21,"color":"#231f20","font":"Liberation Sans"},"encoding":{"x":{"field":"q","type":"quantitative","title":null},"y":{"field":"h","type":"quantitative","title":null},"text":{"field":"m","type":"nominal"}}}
]},
{"data":{"values":[{"g":0,"f":50}]},"mark":{"type":"point","opacity":0},
"encoding":{
"x":{"field":"g","type":"quantitative","title":null,"scale":{"domain":[0,123.28],"nice":false,"zero":false},"axis":{"orient":"top","tickCount":500,"labelOverlap":false,"labelFlush":false,"ticks":true,"tickSize":5,"tickColor":"#231f20","tickWidth":1.5,"values":[0,10,20,30,40,50,60,70,80,90,100,110,120,22.85],"tickOpacity":{"condition":{"test":"datum.value == 22.85","value":0},"value":1},"labelExpr":"datum.value == 22.85 ? 'U.S. g.p.m.' : (datum.value % 20 == 0 && datum.value != 20) ? format(datum.value, 'd') : ''","labelPadding":8}},
"y":{"field":"f","type":"quantitative","title":null,"scale":{"domain":[16.404,246.063],"nice":false,"zero":false},"axis":{"orient":"right","tickCount":500,"labelOverlap":false,"labelFlush":false,"ticks":true,"tickSize":8,"tickColor":"#231f20","tickWidth":1.5,"values":[20,30,40,50,60,70,80,90,100,110,120,130,140,150,160,170,180,190,200,210,220,230,240,126],"tickOpacity":{"condition":{"test":"datum.value == 126","value":0},"value":1},"labelExpr":"datum.value == 126 ? 'ft' : datum.value % 50 == 0 ? format(datum.value, 'd') : ''","labelPadding":{"condition":{"test":"datum.value == 126","value":19},"value":8}}}}}
],
"resolve":{"scale":{"x":"independent","y":"independent"}}},

{"width":577,"height":77,"view":{"stroke":null},"data":{"values":[]},"mark":"point"},
{"width":577,"height":77,"view":{"stroke":null},"data":{"values":[]},"mark":"point"},

{"width":577,"height":153,
"layer":[
{"data":{"name":"e80"},"layer":[
{"mark":{"type":"area","interpolate":"monotone","color":"#a8e1f8","clip":true},
"encoding":{
"x":{"field":"q","type":"quantitative","title":null,"scale":{"domain":[0,14],"nice":false,"zero":false},"axis":{"orient":"bottom","tickCount":500,"labelOverlap":false,"labelFlush":false,"zindex":1,"grid":true,"labels":false,"values":[0,1,2,3,4,5,6,7,8,9,10,11,12,13,14]}},
"y":{"field":"v","type":"quantitative","title":null,"scale":{"domain":[50,70],"nice":false,"zero":false},"axis":{"orient":"left","tickCount":500,"labelOverlap":false,"labelFlush":false,"zindex":1,"grid":true,"values":[50,55,60,65,70,65.8,63.4],"labelExpr":"datum.value == 65.8 ? 'η' : datum.value == 63.4 ? '%' : datum.value % 10 == 0 ? format(datum.value, 'd') : ''","gridOpacity":{"condition":{"test":"datum.value % 5 != 0","value":0},"value":1},"labelAlign":{"condition":{"test":"datum.value % 5 != 0","value":"center"},"value":"right"},"labelPadding":{"condition":{"test":"datum.value % 5 != 0","value":18},"value":8}}}}},
{"mark":{"type":"line","interpolate":"monotone","color":"#1e1e1e","strokeWidth":3},"encoding":{"x":{"field":"q","type":"quantitative","title":null},"y":{"field":"v","type":"quantitative","title":null}}}
]},
{"data":{"values":[{"l":0}]},"mark":{"type":"point","opacity":0},
"encoding":{
"x":{"field":"l","type":"quantitative","title":null,"scale":{"domain":[0,233.333],"nice":false,"zero":false},"axis":{"orient":"top","tickCount":500,"labelOverlap":false,"labelFlush":false,"ticks":true,"tickSize":10,"tickColor":"#231f20","tickWidth":1.5,"values":[0,10,20,30,40,50,60,70,80,90,100,110,120,130,140,150,160,170,180,190,200,210,220,230,14.9,33.4],"tickOpacity":{"condition":{"test":"datum.value == 14.9 || datum.value == 33.4","value":0},"value":1},"labelExpr":"datum.value == 14.9 ? 'Q' : datum.value == 33.4 ? 'l/min' : datum.value % 50 == 0 ? format(datum.value, 'd') : ''","labelFontWeight":{"condition":{"test":"datum.value == 14.9","value":"bold"},"value":"normal"},"labelFontSize":{"condition":{"test":"datum.value == 14.9","value":20},"value":18},"labelPadding":{"condition":{"test":"datum.value == 14.9","value":16},"value":2}}}}}
],
"resolve":{"scale":{"x":"independent"}}},

{"width":577,"height":153,
"layer":[
{"data":{"name":"e160"},"layer":[
{"mark":{"type":"area","interpolate":"monotone","color":"#a8e1f8","clip":true},
"encoding":{
"x":{"field":"q","type":"quantitative","title":null,"scale":{"domain":[0,28],"nice":false,"zero":false},"axis":{"orient":"bottom","tickCount":500,"labelOverlap":false,"labelFlush":false,"zindex":1,"grid":true,"labels":false,"values":[0,2,4,6,8,10,12,14,16,18,20,22,24,26,28]}},
"y":{"field":"v","type":"quantitative","title":null,"scale":{"domain":[30,70],"nice":false,"zero":false},"axis":{"orient":"left","tickCount":500,"labelOverlap":false,"labelFlush":false,"zindex":1,"grid":true,"values":[30,40,50,60,70,61.6,56.8],"labelExpr":"datum.value == 61.6 ? 'η' : datum.value == 56.8 ? '%' : datum.value % 20 == 10 ? format(datum.value, 'd') : ''","gridOpacity":{"condition":{"test":"datum.value % 10 != 0","value":0},"value":1},"labelAlign":{"condition":{"test":"datum.value % 10 != 0","value":"center"},"value":"right"},"labelPadding":{"condition":{"test":"datum.value % 10 != 0","value":17},"value":8}}}}},
{"mark":{"type":"line","interpolate":"monotone","color":"#1e1e1e","strokeWidth":3},"encoding":{"x":{"field":"q","type":"quantitative","title":null},"y":{"field":"v","type":"quantitative","title":null}}}
]},
{"data":{"values":[{"l":0}]},"mark":{"type":"point","opacity":0},
"encoding":{
"x":{"field":"l","type":"quantitative","title":null,"scale":{"domain":[0,466.667],"nice":false,"zero":false},"axis":{"orient":"top","tickCount":500,"labelOverlap":false,"labelFlush":false,"ticks":true,"tickSize":10,"tickColor":"#231f20","tickWidth":1.5,"values":[0,20,40,60,80,100,120,140,160,180,200,220,240,260,280,300,320,340,360,380,400,420,440,460,31.1,63.7],"tickOpacity":{"condition":{"test":"datum.value == 31.1 || datum.value == 63.7","value":0},"value":1},"labelExpr":"datum.value == 31.1 ? 'Q' : datum.value == 63.7 ? 'l/min' : datum.value % 100 == 0 ? format(datum.value, 'd') : ''","labelFontWeight":{"condition":{"test":"datum.value == 31.1","value":"bold"},"value":"normal"},"labelFontSize":{"condition":{"test":"datum.value == 31.1","value":20},"value":18},"labelPadding":{"condition":{"test":"datum.value == 31.1","value":16},"value":2}}}}}
],
"resolve":{"scale":{"x":"independent"}}},

{"width":577,"height":41,"view":{"stroke":null},"data":{"values":[]},"mark":"point"},
{"width":577,"height":41,"view":{"stroke":null},"data":{"values":[]},"mark":"point"},

{"width":577,"height":153,
"layer":[
{"data":{"name":"n80"},"layer":[
{"mark":{"type":"area","interpolate":"monotone","color":"#a8e1f8","clip":true},
"encoding":{
"x":{"field":"q","type":"quantitative","title":null,"scale":{"domain":[0,14],"nice":false,"zero":false},"axis":{"orient":"bottom","tickCount":500,"labelOverlap":false,"labelFlush":false,"zindex":1,"grid":true,"values":[0,1,2,3,4,5,6,7,8,9,10,11,12,13,14,1.46,2.38,13.15],"labelExpr":"datum.value == 1.46 ? 'Q' : datum.value == 2.38 ? 'm³/h' : datum.value == 13.15 ? '72.397/1' : (datum.value % 2 == 0 && datum.value != 2) ? format(datum.value, 'd') : ''","gridOpacity":{"condition":{"test":"datum.value % 1 != 0","value":0},"value":1},"labelFontWeight":{"condition":{"test":"datum.value == 1.46","value":"bold"},"value":"normal"},"labelFontSize":{"condition":[{"test":"datum.value == 1.46","value":20},{"test":"datum.value == 13.15","value":10.5}],"value":18},"labelPadding":{"condition":[{"test":"datum.value == 1.46","value":12.5},{"test":"datum.value == 13.15","value":10.5}],"value":13}}},
"y":{"field":"v","type":"quantitative","title":null,"scale":{"domain":[0,4],"nice":false,"zero":false},"axis":{"orient":"left","tickCount":500,"labelOverlap":false,"labelFlush":false,"zindex":1,"grid":true,"values":[0,1,2,3,4,3.03,2.57],"labelExpr":"datum.value == 3.03 ? 'NPSH' : datum.value == 2.57 ? 'm' : datum.value % 2 == 0 ? format(datum.value, 'd') : ''","gridOpacity":{"condition":{"test":"datum.value % 1 != 0","value":0},"value":1},"labelAlign":{"condition":{"test":"datum.value % 1 != 0","value":"center"},"value":"right"},"labelPadding":{"condition":{"test":"datum.value % 1 != 0","value":30},"value":8},"labelFontWeight":{"condition":{"test":"datum.value == 3.03","value":"bold"},"value":"normal"},"labelFontSize":{"condition":[{"test":"datum.value == 3.03","value":17},{"test":"datum.value == 2.57","value":16}],"value":18}}}}},
{"mark":{"type":"line","interpolate":"monotone","color":"#1e1e1e","strokeWidth":3},"encoding":{"x":{"field":"q","type":"quantitative","title":null},"y":{"field":"v","type":"quantitative","title":null}}}
]},
{"data":{"values":[{"f":0}]},"mark":{"type":"point","opacity":0},
"encoding":{
"y":{"field":"f","type":"quantitative","title":null,"scale":{"domain":[0,13.1234],"nice":false,"zero":false},"axis":{"orient":"right","tickCount":500,"labelOverlap":false,"labelFlush":false,"ticks":true,"tickSize":8,"tickColor":"#231f20","tickWidth":1.5,"values":[0,2,4,6,8,10,12,6.4],"tickOpacity":{"condition":{"test":"datum.value == 6.4","value":0},"value":1},"labelExpr":"datum.value == 6.4 ? 'ft' : datum.value % 4 == 0 ? format(datum.value, 'd') : ''","labelPadding":10.5}}}}
],
"resolve":{"scale":{"y":"independent"}}},

{"width":577,"height":153,
"layer":[
{"data":{"name":"n160"},"layer":[
{"mark":{"type":"area","interpolate":"monotone","color":"#a8e1f8","clip":true},
"encoding":{
"x":{"field":"q","type":"quantitative","title":null,"scale":{"domain":[0,28],"nice":false,"zero":false},"axis":{"orient":"bottom","tickCount":500,"labelOverlap":false,"labelFlush":false,"zindex":1,"grid":true,"values":[0,2,4,6,8,10,12,14,16,18,20,22,24,26,28,2.95,4.85,26.14],"labelExpr":"datum.value == 2.95 ? 'Q' : datum.value == 4.85 ? 'm³/h' : datum.value == 26.14 ? '72.397/2' : (datum.value % 4 == 0 && datum.value != 4) ? format(datum.value, 'd') : ''","gridOpacity":{"condition":{"test":"datum.value % 2 != 0","value":0},"value":1},"labelFontWeight":{"condition":{"test":"datum.value == 2.95","value":"bold"},"value":"normal"},"labelFontSize":{"condition":[{"test":"datum.value == 2.95","value":20},{"test":"datum.value == 26.14","value":10.5}],"value":18},"labelPadding":{"condition":[{"test":"datum.value == 2.95","value":12.5},{"test":"datum.value == 26.14","value":10.5}],"value":13}}},
"y":{"field":"v","type":"quantitative","title":null,"scale":{"domain":[1,5],"nice":false,"zero":false},"axis":{"orient":"left","tickCount":500,"labelOverlap":false,"labelFlush":false,"zindex":1,"grid":true,"values":[1,2,3,4,5,4.03,3.57],"labelExpr":"datum.value == 4.03 ? 'NPSH' : datum.value == 3.57 ? 'm' : datum.value % 2 == 1 ? format(datum.value, 'd') : ''","gridOpacity":{"condition":{"test":"datum.value % 1 != 0","value":0},"value":1},"labelAlign":{"condition":{"test":"datum.value % 1 != 0","value":"center"},"value":"right"},"labelPadding":{"condition":[{"test":"datum.value == 4.03","value":29},{"test":"datum.value == 3.57","value":33}],"value":8},"labelFontWeight":{"condition":{"test":"datum.value == 4.03","value":"bold"},"value":"normal"},"labelFontSize":{"condition":[{"test":"datum.value == 4.03","value":17},{"test":"datum.value == 3.57","value":16}],"value":18}}}}},
{"mark":{"type":"line","interpolate":"monotone","color":"#1e1e1e","strokeWidth":3},"encoding":{"x":{"field":"q","type":"quantitative","title":null},"y":{"field":"v","type":"quantitative","title":null}}}
]},
{"data":{"values":[{"f":4}]},"mark":{"type":"point","opacity":0},
"encoding":{
"y":{"field":"f","type":"quantitative","title":null,"scale":{"domain":[3.28084,16.4042],"nice":false,"zero":false},"axis":{"orient":"right","tickCount":500,"labelOverlap":false,"labelFlush":false,"ticks":true,"tickSize":8,"tickColor":"#231f20","tickWidth":1.5,"values":[4,6,8,10,12,14,16],"labelExpr":"datum.value == 10 ? 'ft' : datum.value % 4 == 0 ? format(datum.value, 'd') : ''","labelPadding":{"condition":{"test":"datum.value == 10","value":11},"value":10}}}}}
],
"resolve":{"scale":{"y":"independent"}}}
],
"config":{
"view":{"stroke":"#1a1a1a","strokeWidth":3},
"font":"Liberation Sans",
"axis":{"labelFont":"Liberation Sans","labelFontSize":18,"labelColor":"#231f20","labelFlush":false,"labelOverlap":false,"labelBound":false,"labelAngle":0,"domain":false,"ticks":false,"grid":false,"gridColor":"#333333","gridWidth":1}
}
}
